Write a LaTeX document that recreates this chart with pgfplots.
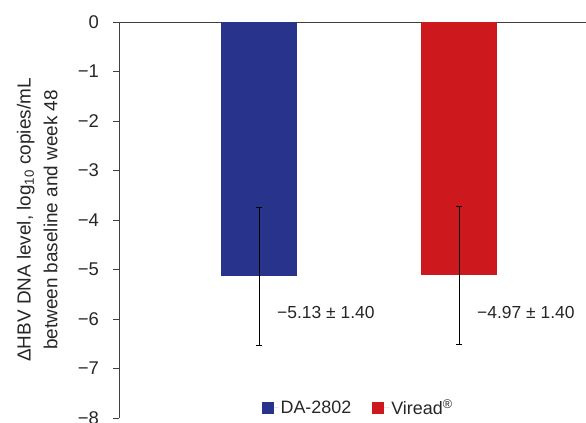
\documentclass[border=0pt]{standalone}
\usepackage{pgfplots}
\pgfplotsset{compat=1.18}
\usepackage{fontspec}
\setmainfont{Liberation Sans}
\definecolor{dablue}{RGB}{40,52,140}
\definecolor{vired}{RGB}{205,25,30}
\begin{document}
\begin{tikzpicture}
\begin{axis}[
  at={(0,0)}, anchor=south west,
  scale only axis,
  width=467bp, height=396bp,
  xmin=-0.7, xmax=1.635,
  ymin=-8, ymax=0,
  axis x line*=top, axis y line*=left,
  axis line style={-, line width=0.9bp, black!75},
  xtick=\empty,
  ytick={0,-1,-2,-3,-4,-5,-6,-7,-8},
  yticklabels={0,−1,−2,−3,−4,−5,−6,−7,−8},
  tick align=outside,
  major tick length=6bp,
  tick style={line width=0.9bp, black!75},
  yticklabel style={font=\fontsize{18.5}{20}\selectfont, text=black!85, xshift=-10.5bp},
  ylabel={ΔHBV DNA level, log\textsubscript{10} copies/mL\\between baseline and week 48},
  ylabel style={align=center, font=\fontsize{19}{27}\selectfont, text=black!85,
    at={(axis description cs:-0.175,0.5)}, anchor=center},
  ybar, bar width=76bp,
  clip=false,
  legend style={draw=none, fill=none, at={(axis description cs:0.512,0.0265)}, anchor=center,
    font=\fontsize{18}{20}\selectfont, text=black!85,
    /tikz/every even column/.append style={column sep=19bp}},
  legend columns=2,
  legend image code/.code={\fill[#1] (0bp,-6bp) rectangle (12bp,6bp); \path (0bp,0bp) -- (17bp,0bp);},
  error bars/y dir=both, error bars/y explicit,
  error bars/error bar style={line width=0.9bp, black},
  error bars/error mark options={line width=0.9bp, black, mark size=3.4bp, rotate=90},
]
\addplot[fill=dablue, draw=none, bar shift=0pt] coordinates {(0,-5.14) +- (0,1.40)};
\addlegendentry{DA-2802}
\addplot[fill=vired, draw=none, bar shift=0pt] coordinates {(1,-5.12) +- (0,1.40)};
\addlegendentry{Viread\textsuperscript{®}}
\node[anchor=west, inner sep=0pt, font=\fontsize{17.5}{19}\selectfont, text=black!85] at (axis cs:0.09,-5.87) {−5.13 ± 1.40};
\node[anchor=west, inner sep=0pt, font=\fontsize{17.5}{19}\selectfont, text=black!85] at (axis cs:1.09,-5.87) {−4.97 ± 1.40};
\end{axis}
\pgfresetboundingbox
\useasboundingbox (-119bp,-5bp) rectangle (467bp,418bp);
\end{tikzpicture}
\end{document}
